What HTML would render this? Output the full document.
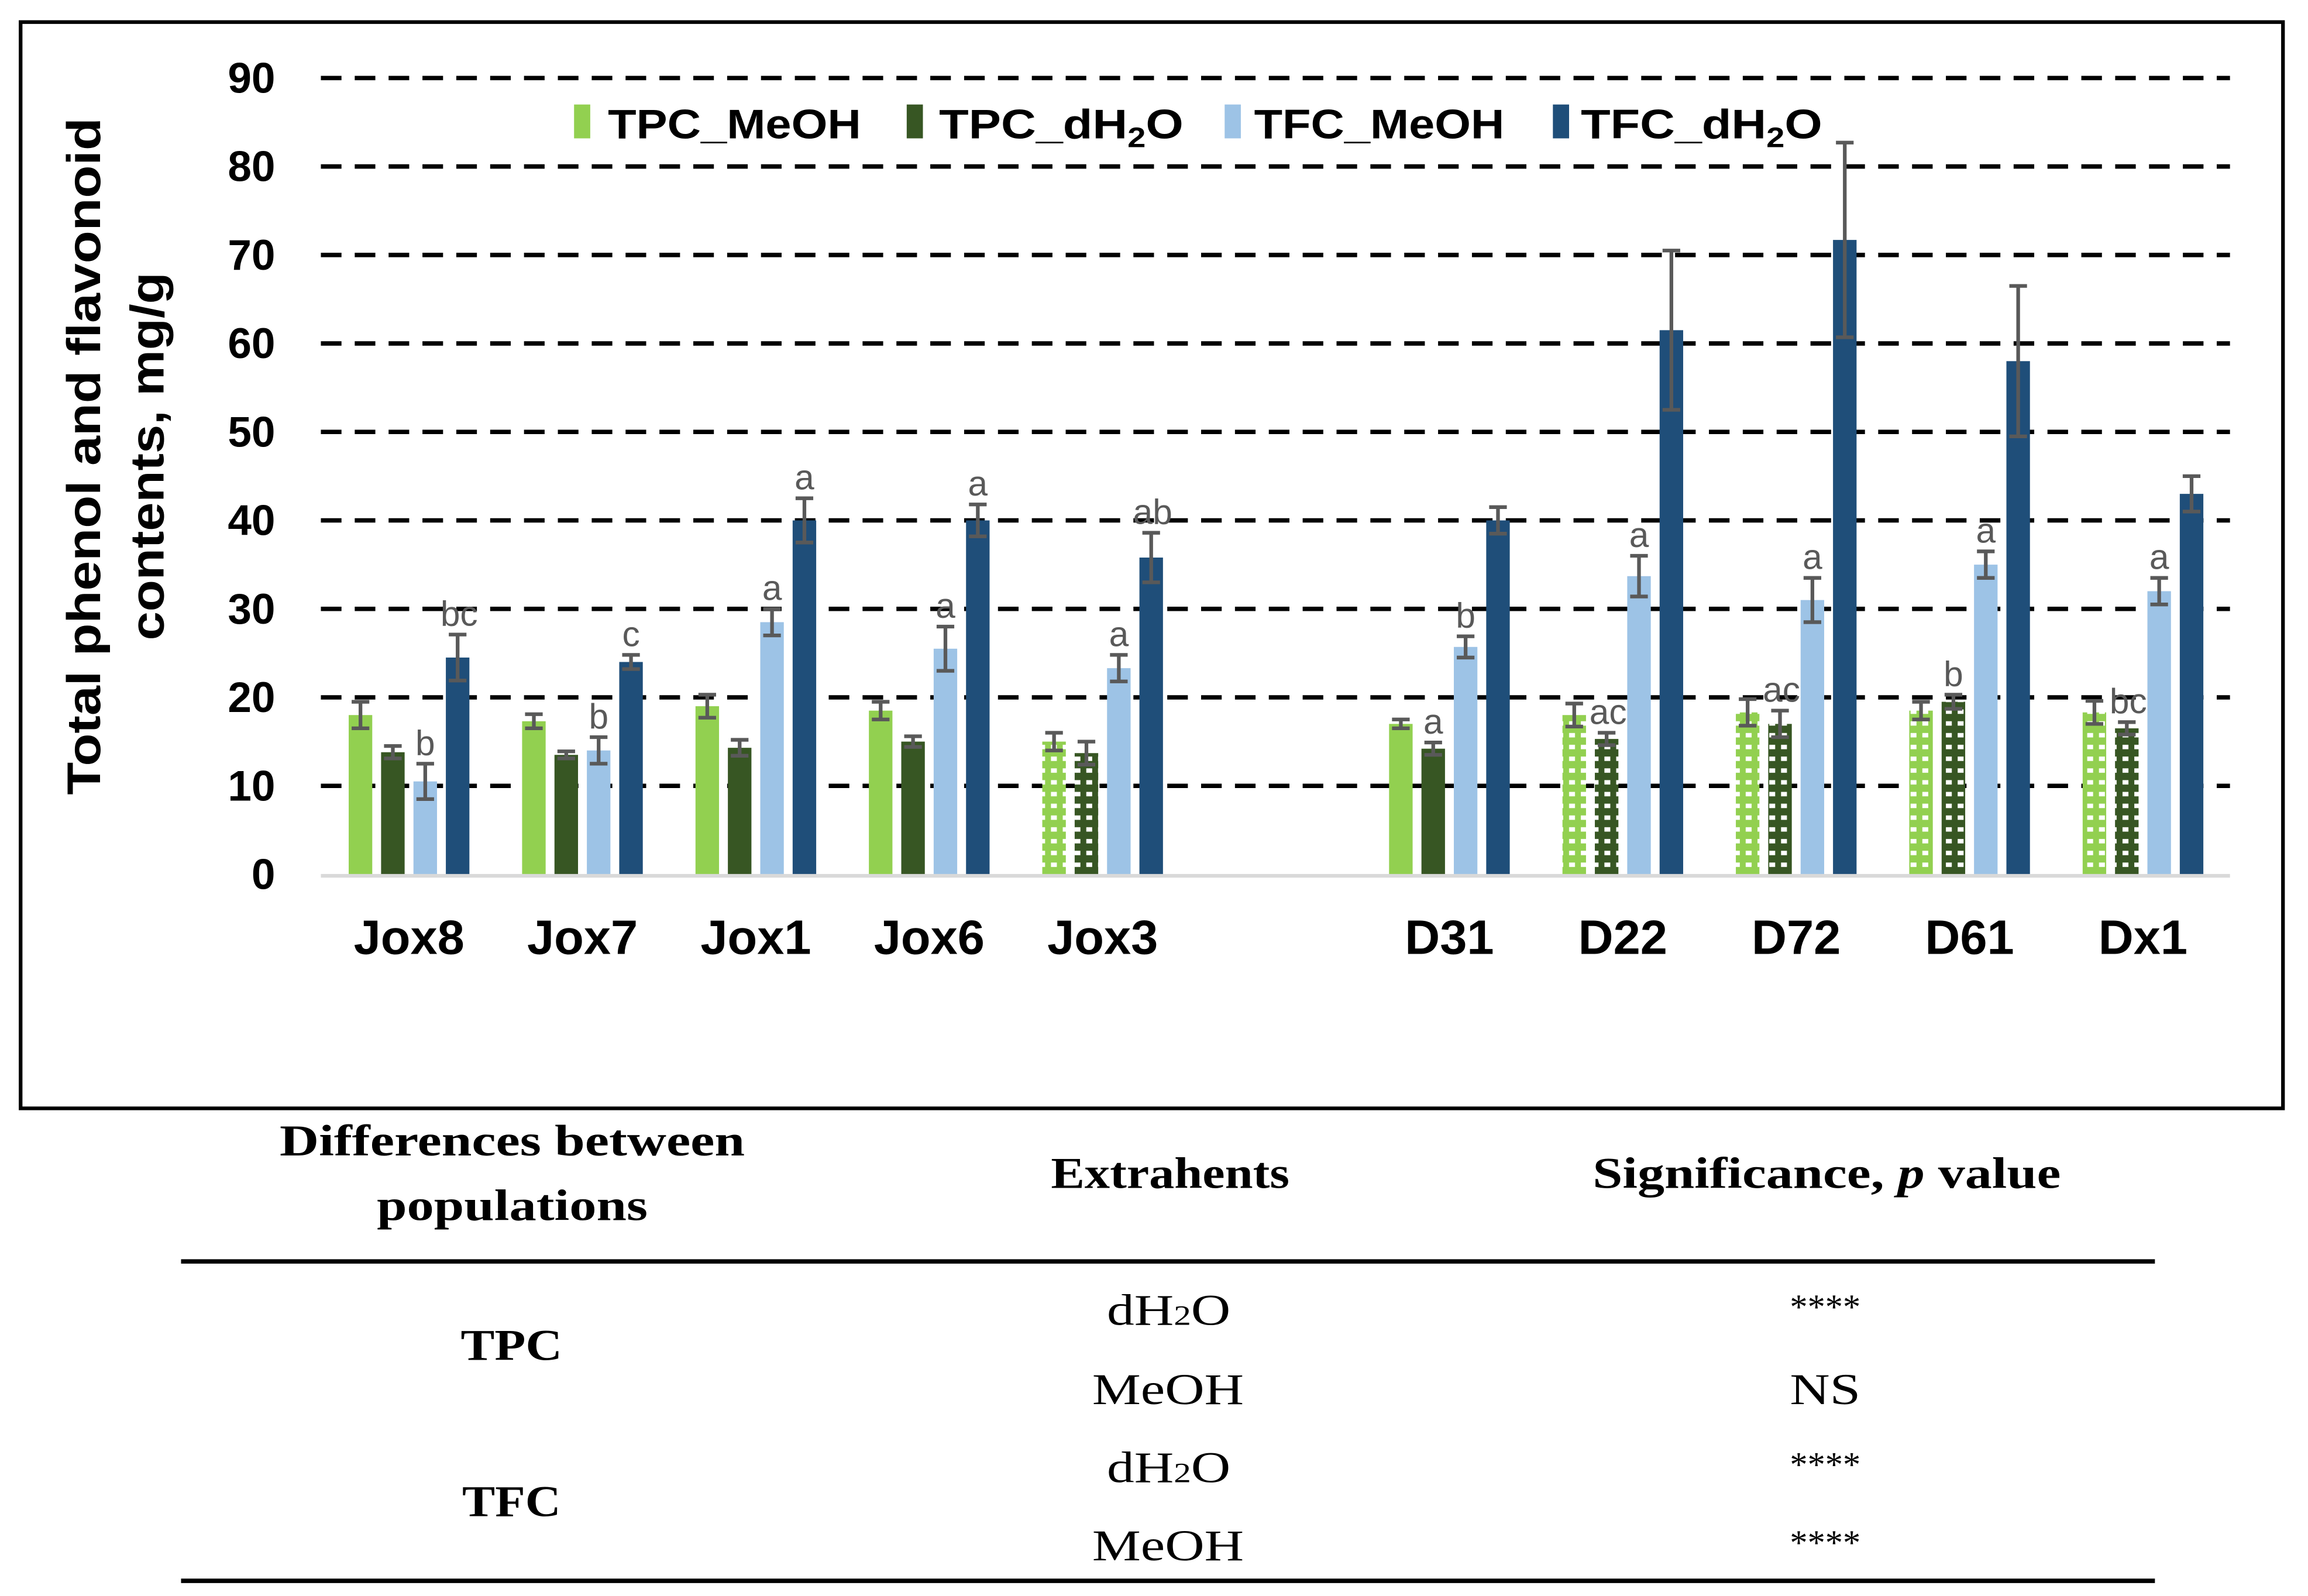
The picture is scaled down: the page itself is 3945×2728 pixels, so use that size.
<!DOCTYPE html>
<html><head><meta charset="utf-8"><style>
html,body{margin:0;padding:0;background:#fff}
svg{display:block}
.b{font-family:"Liberation Sans",sans-serif;font-weight:bold;fill:#000}
.s{font-family:"Liberation Serif",serif;fill:#000}
.lt{font-family:"Liberation Sans",sans-serif;fill:#595959;font-size:24px}
</style></head><body>
<svg id="chart" width="3945" height="2728" viewBox="0 0 1568 1084.3" preserveAspectRatio="none" xmlns="http://www.w3.org/2000/svg">
<defs>
<pattern id="pLight" width="8" height="8" patternUnits="userSpaceOnUse"><rect width="8" height="8" fill="#92d050"/><rect x="2" y="2" width="4" height="3" fill="#fff"/></pattern>
<pattern id="pDark" width="8" height="8" patternUnits="userSpaceOnUse"><rect width="8" height="8" fill="#375623"/><rect x="2" y="2" width="4" height="3" fill="#fff"/></pattern>
</defs>
<rect x="14" y="15" width="1537" height="738" fill="none" stroke="#000" stroke-width="2.5"/>
<g id="grid"></g>
<g id="bars"></g>
<g id="axis"></g>
<text class="b" font-size="32" transform="translate(68,310) rotate(-90)" text-anchor="middle" textLength="460" lengthAdjust="spacingAndGlyphs">Total phenol and flavonoid</text>
<text class="b" font-size="32" transform="translate(111,310) rotate(-90)" text-anchor="middle" textLength="250" lengthAdjust="spacingAndGlyphs">contents, mg/g</text>
<g class="b" font-size="28">
<rect x="390" y="71" width="11" height="23" fill="#92d050"/>
<text x="413" y="94" textLength="172" lengthAdjust="spacingAndGlyphs">TPC_MeOH</text>
<rect x="616" y="71" width="11" height="23" fill="#375623"/>
<text x="638" y="94" textLength="166" lengthAdjust="spacingAndGlyphs">TPC_dH<tspan font-size="19" dy="6">2</tspan><tspan dy="-6">O</tspan></text>
<rect x="832" y="71" width="11" height="23" fill="#9dc3e6"/>
<text x="852" y="94" textLength="170" lengthAdjust="spacingAndGlyphs">TFC_MeOH</text>
<rect x="1055" y="71" width="11" height="23" fill="#1f4e79"/>
<text x="1074" y="94" textLength="164" lengthAdjust="spacingAndGlyphs">TFC_dH<tspan font-size="19" dy="6">2</tspan><tspan dy="-6">O</tspan></text>
</g>
<g class="s" font-size="30">
<text x="190" y="785" font-weight="bold" textLength="316" lengthAdjust="spacingAndGlyphs">Differences between</text>
<text x="256" y="829" font-weight="bold" textLength="184" lengthAdjust="spacingAndGlyphs">populations</text>
<text x="714" y="807" font-weight="bold" textLength="162" lengthAdjust="spacingAndGlyphs">Extrahents</text>
<text x="1082" y="807" font-weight="bold" textLength="318" lengthAdjust="spacingAndGlyphs">Significance, <tspan font-style="italic">p</tspan> value</text>
<line x1="123" y1="857" x2="1464" y2="857" stroke="#000" stroke-width="3"/>
<text x="313" y="924" font-weight="bold" textLength="69" lengthAdjust="spacingAndGlyphs">TPC</text>
<text x="314" y="1030" font-weight="bold" textLength="67" lengthAdjust="spacingAndGlyphs">TFC</text>
<text x="752" y="900" textLength="84" lengthAdjust="spacingAndGlyphs">dH<tspan font-size="19">2</tspan>O</text>
<text x="742" y="954" textLength="103" lengthAdjust="spacingAndGlyphs">MeOH</text>
<text x="752" y="1007" textLength="84" lengthAdjust="spacingAndGlyphs">dH<tspan font-size="19">2</tspan>O</text>
<text x="742" y="1060" textLength="103" lengthAdjust="spacingAndGlyphs">MeOH</text>
<text x="1240" y="896" text-anchor="middle" font-size="24">****</text>
<text x="1240" y="954" text-anchor="middle" textLength="48" lengthAdjust="spacingAndGlyphs">NS</text>
<text x="1240" y="1003" text-anchor="middle" font-size="24">****</text>
<text x="1240" y="1056" text-anchor="middle" font-size="24">****</text>
<line x1="123" y1="1074" x2="1464" y2="1074" stroke="#000" stroke-width="3"/>
</g>
</svg>
<script>
const categories=["Jox8","Jox7","Jox1","Jox6","Jox3","","D31","D22","D72","D61","Dx1"];
const tpcMeoh=[18,17.3,19,18.5,15,null,17,18,18.3,18.5,18.3];
const tpcDh2o=[13.8,13.5,14.3,15,13.7,null,14.2,15.3,17,19.5,16.5];
const tfcMeoh=[10.5,14,28.5,25.5,23.3,null,25.7,33.7,31,35,32];
const tfcDh2o=[24.5,24,40,40,35.8,null,40,61.5,71.7,58,43];
const errTpcMeoh=[1.5,0.8,1.3,1,1,null,0.5,1.3,1.5,1,1.3];
const errTpcDh2o=[0.7,0.4,0.9,0.6,1.3,null,0.7,0.7,1.5,0.8,0.7];
const errTfcMeoh=[2,1.5,1.5,2.5,1.5,null,1.2,2.3,2.5,1.5,1.5];
const errTfcDh2o=[2.6,0.8,2.5,1.8,2.8,null,1.5,9,11,8.5,2];
const patterned=[false,false,false,false,true,false,false,true,true,true,true];
const lblTpcDh2o=["","","","","",null,"a","ac","ac","b","bc"];
const lblTfcMeoh=["b","b","a","a","a",null,"b","a","a","a","a"];
const lblTfcDh2o=["bc","c","a","a","ab",null,"","","","",""];
const yTicks=[0,10,20,30,40,50,60,70,80,90];

const NS="http://www.w3.org/2000/svg";
const y0=594,yTop=53,x0=219,slot=117.8;
const yS=v=>y0-(v/90)*(y0-yTop);
const xC=i=>x0+slot*(i+0.5);
function mk(t,a,p){const e=document.createElementNS(NS,t);for(const k in a)e.setAttribute(k,a[k]);p.appendChild(e);return e;}
const grid=document.getElementById('grid'),bars=document.getElementById('bars'),axis=document.getElementById('axis');
yTicks.forEach(v=>{
  if(v>0){const l=mk('line',{x1:218,x2:1515,y1:yS(v),y2:yS(v),stroke:'#000','stroke-width':3,'stroke-dasharray':'14 9'},grid);
  
  }
  const t=mk('text',{x:187,y:yS(v)+10,'text-anchor':'end','font-size':29,class:'b'},axis);
  t.textContent=v;
  
  
});
const bl=mk('line',{x1:218,x2:1515,y1:y0+1,y2:y0+1,stroke:'#d9d9d9','stroke-width':2.5},axis);


const series=[
 {v:tpcMeoh,e:errTpcMeoh,c:'#92d050',p:'url(#pLight)',off:-33,n:'tpc-meoh',lab:null},
 {v:tpcDh2o,e:errTpcDh2o,c:'#375623',p:'url(#pDark)',off:-11,n:'tpc-dh2o',lab:lblTpcDh2o},
 {v:tfcMeoh,e:errTfcMeoh,c:'#9dc3e6',p:null,off:11,n:'tfc-meoh',lab:lblTfcMeoh},
 {v:tfcDh2o,e:errTfcDh2o,c:'#1f4e79',p:null,off:33,n:'tfc-dh2o',lab:lblTfcDh2o}];
const bw=16;
categories.forEach((c,i)=>{
  if(c){const t=mk('text',{x:xC(i),y:648,'text-anchor':'middle','font-size':33,class:'b'},axis);
  t.textContent=c;
  
  }
  series.forEach(s=>{
    const v=s.v[i]; if(v==null)return;
    const cx=xC(i)+s.off;
    const fill=(patterned[i]&&s.p)?s.p:s.c;
    const r=mk('rect',{x:cx-bw/2,y:yS(v),width:bw,height:y0-yS(v),fill:fill},bars);
    
    
    const e=s.e[i];
    const g=mk('path',{d:`M${cx} ${yS(v+e)}V${yS(v-e)}M${cx-6} ${yS(v+e)}H${cx+6}M${cx-6} ${yS(v-e)}H${cx+6}`,stroke:'#595959','stroke-width':2.5,fill:'none'},bars);
    
    
    if(s.lab&&s.lab[i]){
      const t=mk('text',{x:cx+(s.lab[i].length>1?1:0),y:yS(v+e)-6,'text-anchor':'middle',class:'lt'},bars);
      t.textContent=s.lab[i];
      
      
    }
  });
});
</script>
</body></html>
